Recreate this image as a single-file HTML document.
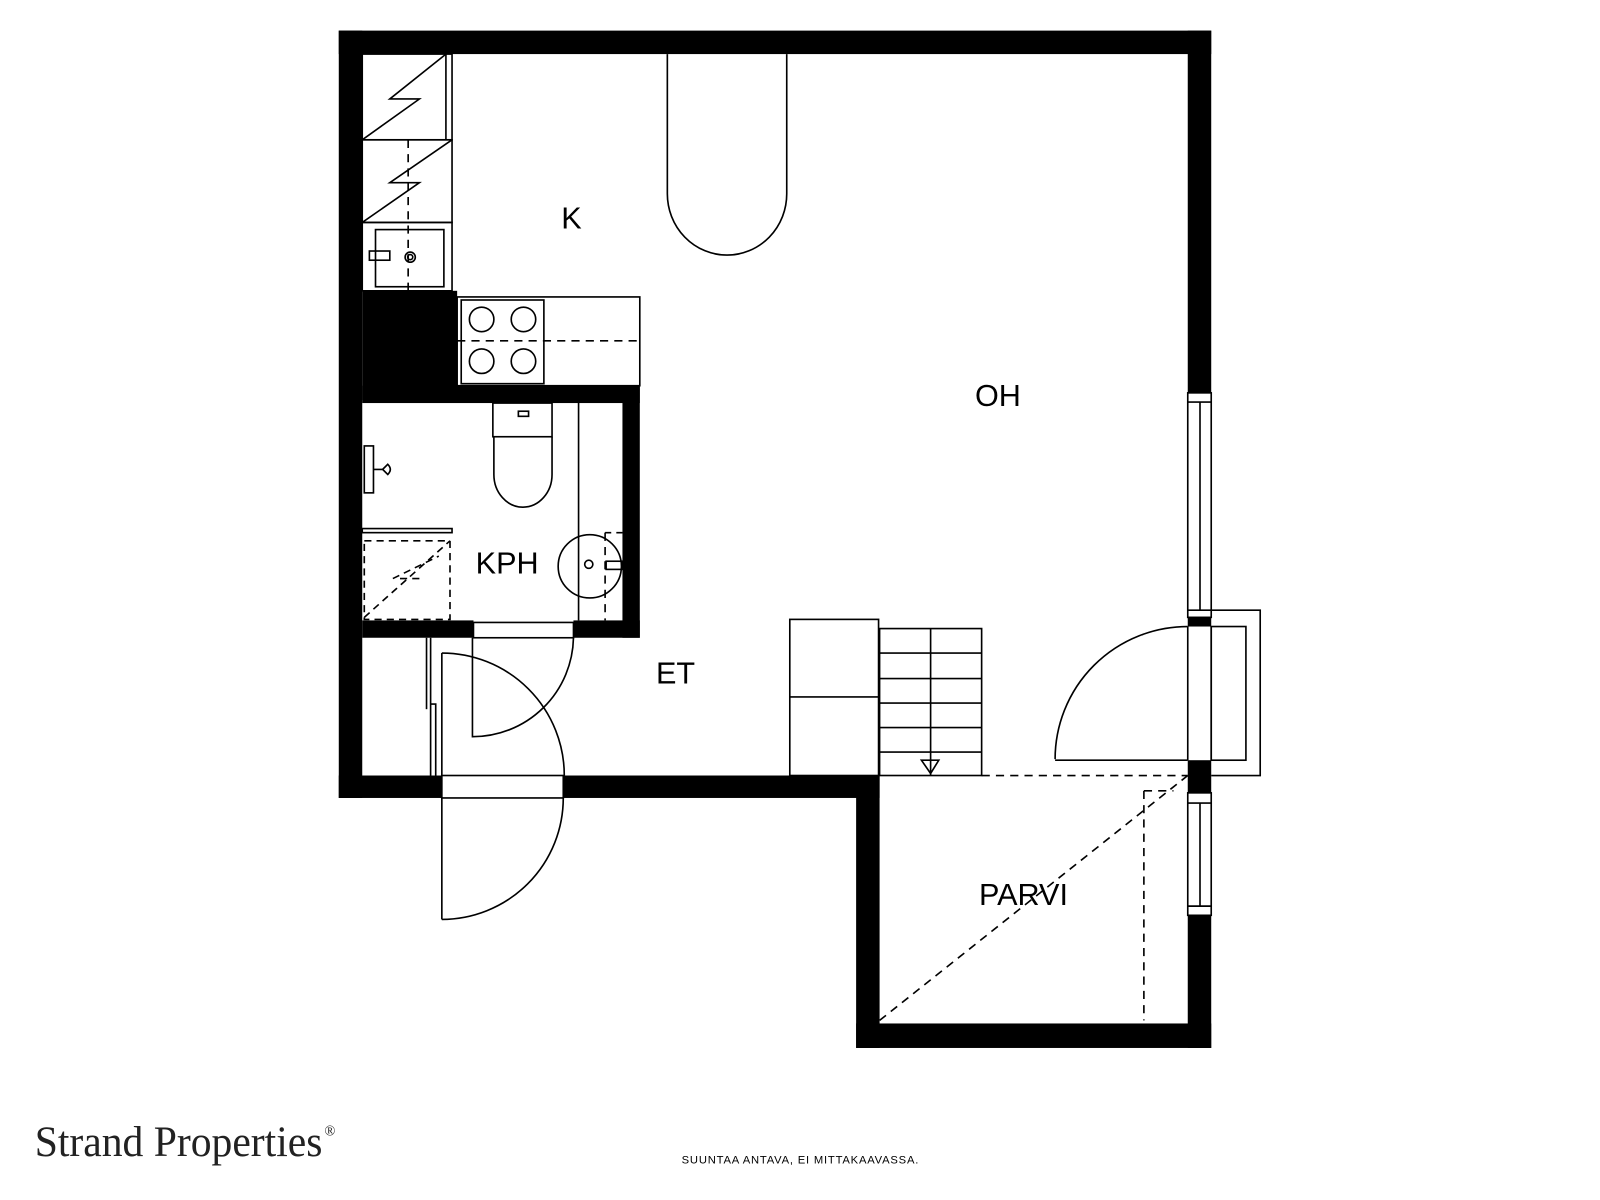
<!DOCTYPE html>
<html><head><meta charset="utf-8"><style>html,body{margin:0;padding:0;background:#fff}svg{display:block}</style></head><body>
<svg width="1600" height="1200" viewBox="0 0 1568 1176" xmlns="http://www.w3.org/2000/svg">
<g fill="#000">
<rect x="332" y="30" width="855" height="23"/>
<rect x="332" y="30" width="23" height="752"/>
<rect x="1164" y="30" width="23" height="355"/>
<rect x="1164" y="605" width="23" height="9"/>
<rect x="1164" y="745" width="23" height="32"/>
<rect x="1164" y="897" width="23" height="130"/>
<rect x="839" y="1003" width="348" height="24"/>
<rect x="839" y="760" width="23" height="267"/>
<rect x="332" y="760" width="101" height="22"/>
<rect x="552" y="760" width="310" height="22"/>
<rect x="355" y="285" width="93" height="107"/>
<rect x="355" y="378" width="272" height="17"/>
<rect x="610" y="378" width="17" height="247"/>
<rect x="355" y="608" width="109" height="17"/>
<rect x="562" y="608" width="65" height="17"/>
</g>
<g fill="none" stroke="#000" stroke-width="1.6">
<rect x="355" y="53" width="88" height="84"/>
<line x1="437" y1="53" x2="437" y2="137"/>
<polyline points="355,137 411,97 382,97 437,53"/>
<rect x="355" y="137" width="88" height="81"/>
<polyline points="355,218 411,179 382,179 443,137"/>
<rect x="355" y="218" width="88" height="67"/>
<rect x="368" y="225" width="67" height="56"/>
<rect x="362" y="246" width="20" height="9"/>
<circle cx="402" cy="252" r="5"/><circle cx="402" cy="252" r="2.5"/>
<line x1="400" y1="137" x2="400" y2="285" stroke-dasharray="8,6"/>
<rect x="448" y="291" width="179" height="87"/>
<rect x="452" y="294" width="81" height="82"/>
<circle cx="472" cy="313" r="12"/><circle cx="513" cy="313" r="12"/>
<circle cx="472" cy="354" r="12"/><circle cx="513" cy="354" r="12"/>
<line x1="448" y1="334" x2="627" y2="334" stroke-dasharray="8,6"/>
<path d="M654 53 L654 190 A58.5 60 0 0 0 771 190 L771 53"/>
<line x1="567" y1="395" x2="567" y2="608"/>
<rect x="483" y="395" width="58" height="33"/>
<rect x="508" y="403" width="10" height="5"/>
<path d="M484 428 L484 465 A28.5 32 0 0 0 541 465 L541 428"/>
<circle cx="578" cy="555" r="31"/>
<rect x="594" y="550" width="16" height="8"/>
<circle cx="577" cy="553" r="4"/>
<line x1="593" y1="522" x2="593" y2="608" stroke-dasharray="8,6"/>
<line x1="593" y1="522" x2="610" y2="522" stroke-dasharray="6,5"/>
<rect x="355" y="518" width="88" height="4"/>
<rect x="357" y="530" width="84" height="77" stroke-dasharray="7,5"/>
<polyline points="357,605 441,530" stroke-dasharray="7,5"/>
<polyline points="392,567 415,567" stroke-dasharray="7,5"/>
<polyline points="385,567 430,545" stroke-dasharray="7,5"/>
<rect x="357" y="437" width="9" height="46"/>
<path d="M366 460 L375 460 L380 455 Q385 460 380 465 L375 460"/>
<rect x="464" y="610" width="98" height="15"/>
<path d="M463 625 L463 722 A99 99 0 0 0 562 625"/>
<line x1="418" y1="625" x2="418" y2="695"/>
<line x1="422" y1="625" x2="422" y2="760"/>
<polyline points="422,690 427,690 427,760"/>
<rect x="433" y="760" width="119" height="22"/>
<line x1="433" y1="640" x2="433" y2="760"/>
<path d="M433 640 A120 120 0 0 1 553 760"/>
<line x1="433" y1="782" x2="433" y2="901"/>
<path d="M552 782 A119 119 0 0 1 433 901"/>
<rect x="774" y="607" width="87" height="153"/>
<line x1="774" y1="683" x2="861" y2="683"/>
<rect x="862" y="616" width="100" height="144"/>
<line x1="912" y1="616" x2="912" y2="760"/>
<line x1="862" y1="640" x2="962" y2="640"/>
<line x1="862" y1="665" x2="962" y2="665"/>
<line x1="862" y1="689" x2="962" y2="689"/>
<line x1="862" y1="713" x2="962" y2="713"/>
<line x1="862" y1="737" x2="962" y2="737"/>
<polygon points="903,745 920,745 912,758"/>
<line x1="962" y1="760" x2="1164" y2="760" stroke-dasharray="8,6"/>
<line x1="862" y1="1000" x2="1164" y2="760" stroke-dasharray="8,6"/>
<line x1="1121" y1="775" x2="1121" y2="1000" stroke-dasharray="8,6"/>
<line x1="1121" y1="775" x2="1150" y2="775" stroke-dasharray="8,6"/>
<rect x="1164" y="385" width="23" height="220"/>
<line x1="1164" y1="394" x2="1187" y2="394"/>
<line x1="1176" y1="394" x2="1176" y2="598"/>
<line x1="1164" y1="598" x2="1187" y2="598"/>
<rect x="1164" y="777" width="23" height="120"/>
<line x1="1164" y1="787" x2="1187" y2="787"/>
<line x1="1176" y1="787" x2="1176" y2="888"/>
<line x1="1164" y1="888" x2="1187" y2="888"/>
<line x1="1164" y1="614" x2="1164" y2="745"/>
<line x1="1187" y1="614" x2="1187" y2="745"/>
<rect x="1187" y="614" width="34" height="131"/>
<polyline points="1187,598 1235,598 1235,760 1187,760"/>
<line x1="1034" y1="745" x2="1164" y2="745"/>
<path d="M1164 614 A130 130 0 0 0 1034 744"/>
</g>
<g font-family="'Liberation Sans', 'DejaVu Sans', sans-serif" font-size="30" fill="#000" text-anchor="middle">
<text x="560" y="224">K</text>
<text x="978" y="398">OH</text>
<text x="497" y="562">KPH</text>
<text x="662" y="670">ET</text>
<text x="1003" y="887">PARVI</text>
</g>
<text x="34" y="1133" font-family="'Liberation Serif', serif" font-size="42" fill="#222" textLength="282" lengthAdjust="spacingAndGlyphs">Strand Properties</text>
<text x="318" y="1113" font-family="'Liberation Serif', serif" font-size="14" fill="#222">®</text>
<text x="668" y="1140" font-family="'Liberation Sans', sans-serif" font-size="11" fill="#000" textLength="232">SUUNTAA ANTAVA, EI MITTAKAAVASSA.</text>
</svg>
</body></html>
